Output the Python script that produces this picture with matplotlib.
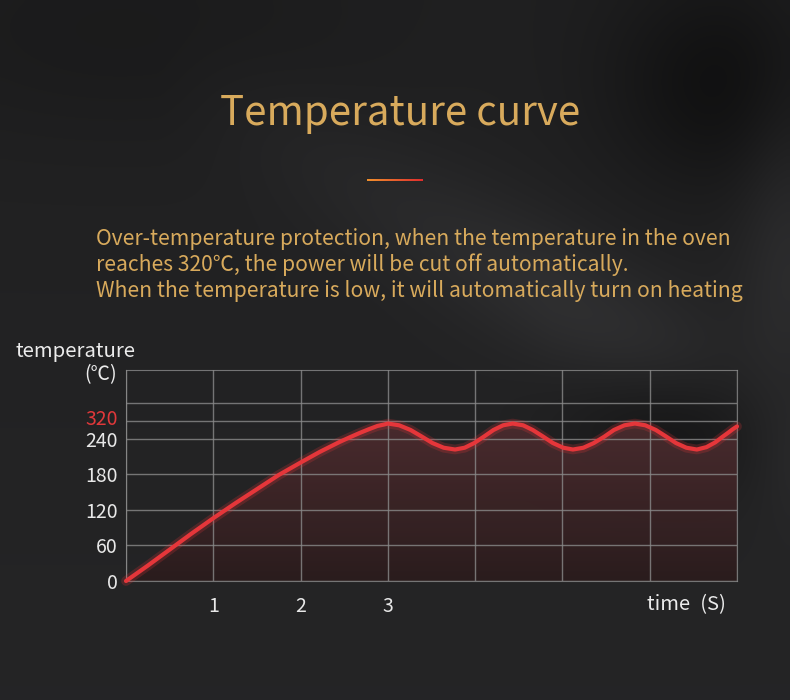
import numpy as np
import matplotlib
matplotlib.use("Agg")
import matplotlib.pyplot as plt
import matplotlib.transforms as mtransforms
from matplotlib.colors import LinearSegmentedColormap

plt.rcParams['font.family'] = ['Noto Sans CJK SC', 'DejaVu Sans']

# curve: time (s) vs temperature (C)
time_s = [0, 0.25, 0.5, 0.75, 1.0, 1.25, 1.5, 1.75, 2.0, 2.22, 2.45, 2.57, 2.68,
          2.78, 2.88, 2.95,
          3.0, 3.13, 3.26, 3.39, 3.51, 3.64,
          3.77, 3.88, 3.99, 4.10, 4.21, 4.32,
          4.43, 4.55, 4.66, 4.78, 4.89, 5.01,
          5.12, 5.24, 5.36, 5.48, 5.59, 5.71,
          5.83, 5.95, 6.07, 6.19, 6.30, 6.42,
          6.54, 6.65, 6.75, 6.83, 6.9, 6.95, 7.0]
temp_c = [0, 26, 53, 80, 106, 131, 155, 179, 200, 218, 235, 248, 267,
          283, 298, 304,
          309, 301, 280, 250, 233, 225,
          222, 225, 233, 250, 280, 301,
          309, 301, 280, 250, 233, 225,
          222, 225, 233, 250, 280, 301,
          309, 301, 280, 250, 233, 225,
          222, 226, 234, 248, 268, 283, 296]

y_ticks = [0, 60, 120, 180, 240, 320, 400]
y_labels = ['0', '60', '120', '180', '240', '320', '']
x_ticks = [0, 1, 2, 3, 4, 5, 6, 7]
x_labels = ['', '1', '2', '3', '', '', '', '']

title = 'Temperature curve'
desc = ['Over-temperature protection, when the temperature in the oven',
        'reaches 320\u2103, the power will be cut off automatically.',
        'When the temperature is low, it will automatically turn on heating']

gold = '#d8aa5c'
grid_c = '#8a8a8a'
red = '#e5363a'

fig = plt.figure(figsize=(7.9, 7.0), dpi=100)

# dark background with a soft diagonal sheen
bg = fig.add_axes([0, 0, 1, 1], zorder=-10)
yy, xx = np.mgrid[0:1:140j, 0:1:158j]
img = 0.125 + 0.02 * yy
d = (-(xx - 0.35) * 0.35 + (yy - 0.2) * 0.55) / 0.652
along = np.clip((xx - 0.2) / 0.5, 0, 1)
img += 0.05 * np.exp(-(d / 0.09) ** 2) * along
img -= 0.06 * np.exp(-(((xx - 0.92) / 0.15) ** 2 + ((yy - 0.12) / 0.16) ** 2))
img -= 0.07 * np.exp(-(((xx - 0.9) / 0.16) ** 2 + ((yy - 0.6) / 0.1) ** 2))
img += 0.04 * np.exp(-(((xx - 1.0) / 0.06) ** 2 + ((yy - 0.35) / 0.25) ** 2))
img -= 0.02 * np.exp(-(((xx - 0.15) / 0.3) ** 2 + ((yy - 0.05) / 0.15) ** 2))
img = np.clip(img, 0, 1)
bg.imshow(np.dstack([img, img, img * 1.03]).clip(0, 1), aspect='auto',
          extent=[0, 1, 0, 1], origin='upper', interpolation='bicubic')
bg.set_axis_off()

fig.text(0.506, 0.838, title, color=gold, fontsize=29, ha='center', va='center')
# short orange-red accent bar
bar = fig.add_axes([367 / 790, 1 - 181.5 / 700, 56 / 790, 3 / 700])
bar.imshow(np.linspace(0, 1, 100)[None, :], aspect='auto',
           cmap=LinearSegmentedColormap.from_list('acc', ['#f0902c', '#e02e2e']))
bar.set_axis_off()

for i, line in enumerate(desc):
    fig.text(96 / 790, 1 - (239 + 26 * i) / 700, line, color=gold,
             fontsize=15.2, ha='left', va='center')

ax = fig.add_axes([126 / 790, 119 / 700, 611 / 790, 211 / 700])
ax.patch.set_alpha(0)


def fwd(t):
    return np.interp(t, [0, 240, 320, 640], [0, 4, 4.5, 6.5])


def inv(u):
    return np.interp(u, [0, 4, 4.5, 6.5], [0, 240, 320, 640])


ax.set_yscale('function', functions=(fwd, inv))

# fill under the curve, shaded darker toward the bottom
poly = ax.fill_between(time_s, 0, temp_c, color='none', lw=0)
grad = LinearSegmentedColormap.from_list('fillg', ['#2b1c1d', '#4e2d30'])
im = ax.imshow(np.linspace(0, 1, 256)[:, None], cmap=grad, origin='lower',
               extent=[0, 1, 0, 0.8], transform=ax.transAxes, aspect='auto',
               alpha=0.95, zorder=1)
im.set_clip_path(poly.get_paths()[0], transform=ax.transData)

ax.plot(time_s, temp_c, color=red, lw=7, alpha=0.22, solid_capstyle='round',
        clip_on=False, zorder=3)
ax.plot(time_s, temp_c, color=red, lw=3.0, solid_capstyle='round',
        clip_on=False, zorder=4)

ax.set_xlim(0, 7)
ax.set_ylim(0, 550)
ax.set_yticks(y_ticks)
ax.set_yticklabels(y_labels)
ax.set_xticks(x_ticks)
ax.set_xticklabels(x_labels)
ax.grid(True, color=grid_c, lw=1, alpha=0.8, zorder=2)
for s in ax.spines.values():
    s.set_color(grid_c)
    s.set_alpha(0.8)
ax.tick_params(length=0, colors='#e8e8e8', labelsize=14)
ax.tick_params(axis='y', pad=6)
ax.tick_params(axis='x', pad=11)

# the 320 label sits a little above its line, as in the picture
lab320 = ax.get_yticklabels()[5]
lab320.set_color('#e0383a')
lab320.set_transform(lab320.get_transform() +
                     mtransforms.ScaledTranslation(0, 3 / 72, fig.dpi_scale_trans))

fig.text(75 / 790, 1 - 352 / 700, 'temperature', color='#ececec', fontsize=14.6,
         ha='center', va='center')
fig.text(101 / 790, 1 - 375 / 700, '(\u2103)', color='#ececec', fontsize=14,
         ha='center', va='center')
fig.text(686 / 790, 1 - 605 / 700, 'time\u2002(S)', color='#ececec', fontsize=14.5,
         ha='center', va='center')

fig.savefig('out.png', dpi=100)
